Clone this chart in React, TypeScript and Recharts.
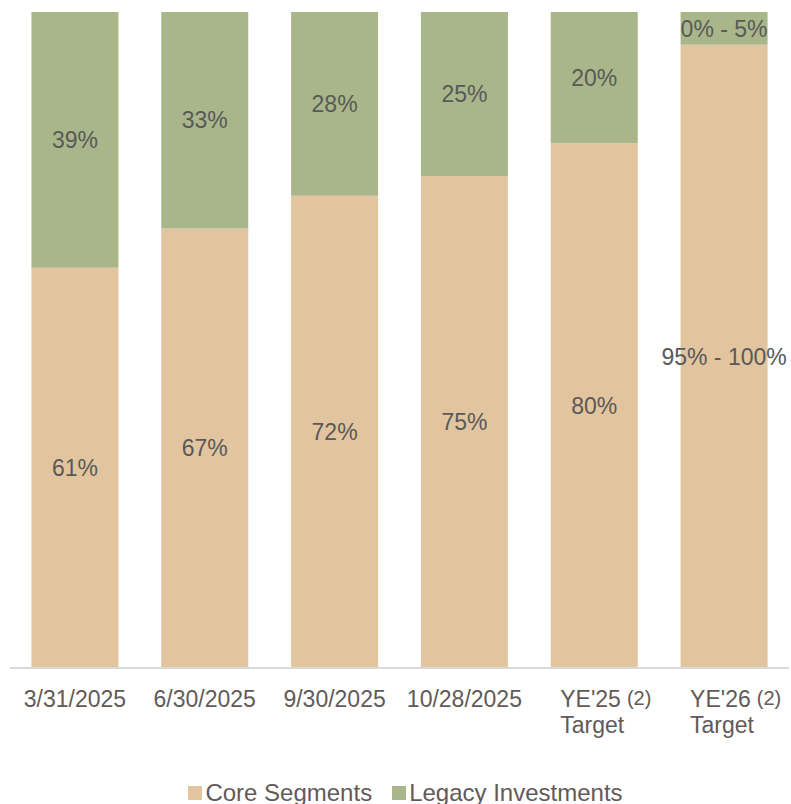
import React from "react";
import { BarChart, Bar, XAxis, YAxis, Legend, LabelList } from "recharts";

const categories = ["3/31/2025", "6/30/2025", "9/30/2025", "10/28/2025", "YE'25", "YE'26"];
const coreValues = [61, 67, 72, 75, 80, 95];
const legacyValues = [39, 33, 28, 25, 20, 5];
const coreLabels = ["61%", "67%", "72%", "75%", "80%", "95% - 100%"];
const legacyLabels = ["39%", "33%", "28%", "25%", "20%", "0% - 5%"];
const footnotes = ["", "", "", "", "(2)", "(2)"];
const secondLines = ["", "", "", "", "Target", "Target"];

const CORE = "#E2C59E";
const LEGACY = "#A9B68A";
const TEXT = "#595959";
const TICK = "#625a58";
const FONT = "'Liberation Sans', Arial, sans-serif";

const data = categories.map((c, i) => ({
  name: c,
  core: coreValues[i],
  legacy: legacyValues[i],
  coreLabel: coreLabels[i],
  legacyLabel: legacyLabels[i],
}));

const Tick = (props: any) => {
  const { x, y, payload, index } = props;
  const fn = footnotes[index];
  const second = secondLines[index];
  if (!fn) {
    return (
      <text x={x} y={y} dy={31} textAnchor="middle" fill={TICK} fontSize={23} fontFamily={FONT}>
        {payload.value}
      </text>
    );
  }
  const left = x - 34;
  return (
    <g>
      <text x={left} y={y} dy={31} textAnchor="start" fill={TICK} fontSize={23} fontFamily={FONT}>
        {payload.value}
        <tspan dx={6} dy={-2} fontSize={20}>{fn}</tspan>
      </text>
      <text x={left} y={y} dy={57} textAnchor="start" fill={TICK} fontSize={23} fontFamily={FONT}>
        {second}
      </text>
    </g>
  );
};

const LegendContent = () => (
  <div
    style={{
      display: "flex",
      justifyContent: "center",
      alignItems: "center",
      fontFamily: FONT,
      fontSize: 24,
      color: TICK,
      paddingLeft: 12,
      lineHeight: "24px",
    }}
  >
    {[
      { label: "Core Segments", color: CORE },
      { label: "Legacy Investments", color: LEGACY },
    ].map((it, i) => (
      <span key={i} style={{ display: "inline-flex", alignItems: "center", marginRight: i === 0 ? 20 : 0 }}>
        <span style={{ display: "inline-block", width: 14, height: 14, background: it.color, marginRight: 3 }} />
        {it.label}
      </span>
    ))}
  </div>
);

export default function App() {
  return (
    <div style={{ position: "absolute", left: 0, top: 0, width: 791, height: 804, overflow: "hidden" }}>
      <BarChart
        width={791}
        height={804}
        data={data}
        margin={{ top: 12, right: 2, left: 10, bottom: 0 }}
        barCategoryGap="16.5%"
      >
        <YAxis hide domain={[0, 100]} />
        <XAxis
          dataKey="name"
          height={80}
          tickLine={false}
          axisLine={{ stroke: "#D9D9D9", strokeWidth: 2 }}
          tick={<Tick />}
          interval={0}
        />
        <Legend verticalAlign="bottom" height={56} content={<LegendContent />} wrapperStyle={{ bottom: -33 }} />
        <Bar dataKey="core" stackId="a" fill={CORE} isAnimationActive={false}>
          <LabelList dataKey="coreLabel" position="center" fill={TEXT} fontSize={23} fontFamily={FONT} />
        </Bar>
        <Bar dataKey="legacy" stackId="a" fill={LEGACY} isAnimationActive={false}>
          <LabelList dataKey="legacyLabel" position="center" fill={TEXT} fontSize={23} fontFamily={FONT} />
        </Bar>
      </BarChart>
    </div>
  );
}
